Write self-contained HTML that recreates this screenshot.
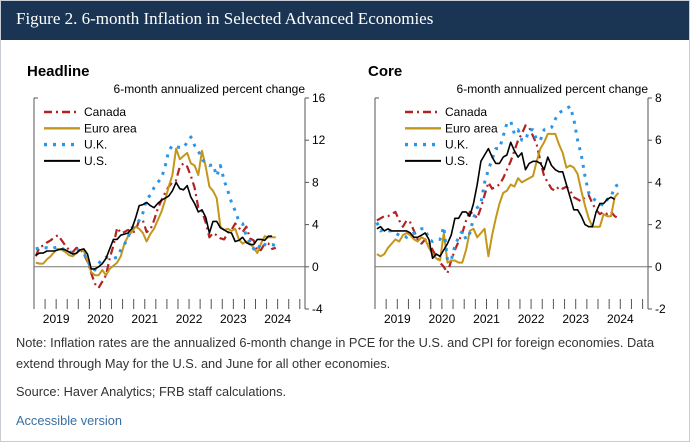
<!DOCTYPE html>
<html><head><meta charset="utf-8">
<style>
html,body{margin:0;padding:0;background:#fff;}
body{width:690px;height:442px;overflow:hidden;position:relative;font-family:"Liberation Sans",sans-serif;}
.note{position:absolute;left:16px;font-size:12.8px;color:#333;line-height:20.5px;white-space:nowrap;}
</style></head><body>
<div style="position:absolute;left:0;top:0;width:688px;height:440px;border:1px solid #c8cdd3;"></div>
<div style="position:absolute;left:1px;top:1px;width:688px;height:39px;background:#1a3553;"></div>
<div style="position:absolute;left:16px;top:9px;color:#fff;font-family:'Liberation Serif',serif;font-size:17px;white-space:nowrap;">Figure 2. 6-month Inflation in Selected Advanced Economies</div>
<svg id="chart" width="690" height="442" style="position:absolute;left:0;top:0"></svg>
<div class="note" style="top:333px;">Note: Inflation rates are the annualized 6-month change in PCE for the U.S. and CPI for foreign economies. Data<br>extend through May for the U.S. and June for all other economies.</div>
<div class="note" style="top:382px;">Source: Haver Analytics; FRB staff calculations.</div>
<div class="note" style="top:411px;color:#3a6fa0;">Accessible version</div>
<script>
const years=["2019","2020","2021","2022","2023","2024"];
const hTicks=[16,12,8,4,0,-4];
const cTicks=[8,6,4,2,0,-2];
const seriesNames=["Canada","Euro area","U.K.","U.S."];
const hCanada=[1.0,1.9,2.0,2.3,2.5,2.8,3.0,2.5,2.0,1.6,1.4,1.8,1.7,1.2,0.5,-0.6,-1.6,-2.0,-1.4,-0.8,0.8,2.0,3.7,3.2,3.3,3.5,3.2,3.4,4.4,4.4,3.3,3.5,4.4,5.5,6.3,7.0,7.6,8.0,8.2,9.5,9.8,9.5,8.6,7.5,5.6,5.3,4.2,2.8,3.2,3.0,2.7,2.6,3.2,3.5,4.1,3.7,3.3,3.8,2.7,2.5,1.5,1.6,2.2,2.2,1.7,1.8];
const hEuro=[0.4,0.3,0.3,0.7,1.0,1.4,1.7,1.6,1.4,1.1,1.0,1.3,1.6,1.5,0.6,-0.5,-0.8,-0.8,-0.3,-0.8,-0.2,0.1,0.4,1.0,2.2,2.9,3.3,3.8,3.6,3.2,2.4,3.1,3.6,4.4,5.2,6.3,7.6,8.7,11.2,10.2,10.5,10.8,9.8,9.6,8.7,11.0,9.5,7.6,7.2,6.5,3.8,3.5,3.6,3.4,3.6,2.6,2.2,2.4,2.2,1.8,1.3,2.2,2.9,2.8,2.8,2.8];
const hUK=[1.7,1.8,1.8,1.8,1.7,1.8,1.9,1.8,1.5,1.3,1.5,1.7,1.5,1.3,0.6,-0.1,-0.3,0.3,0.7,0.9,0.8,0.8,0.9,1.6,2.1,2.8,3.7,3.9,4.4,5.1,6.4,6.8,7.5,8.0,8.4,9.5,11.0,11.5,11.4,11.3,11.3,11.8,12.3,11.5,11.0,10.2,9.8,9.6,9.7,8.6,9.6,8.2,7.2,6.1,5.3,4.3,4.1,2.9,2.4,1.7,1.5,2.3,2.1,2.0,2.1,2.0];
const hUS=[1.1,1.3,1.3,1.5,1.5,1.5,1.6,1.7,1.6,1.4,1.2,1.3,1.6,1.7,1.2,-0.2,-0.2,0.0,0.3,0.8,1.7,2.6,2.6,3.0,3.1,3.2,3.6,4.6,5.8,5.9,6.1,5.8,5.6,6.0,6.3,6.5,6.7,7.2,8.0,7.4,7.3,7.7,6.6,6.0,5.2,5.4,4.7,3.2,4.3,4.3,3.7,3.5,3.3,3.2,2.4,2.5,2.8,2.3,2.1,2.1,2.6,2.6,2.5,2.9,2.9];
const cCanada=[2.2,2.3,2.4,2.4,2.5,2.6,2.2,1.9,2.2,2.1,1.7,1.3,1.1,1.3,1.2,0.8,0.5,0.2,0.0,-0.3,0.3,0.8,1.2,1.6,2.2,2.6,2.5,2.3,2.8,3.4,4.0,3.7,3.8,3.9,4.2,4.6,5.0,5.5,6.0,6.3,6.7,6.6,6.2,5.8,5.0,4.3,4.0,3.7,3.6,3.8,3.7,3.8,3.6,3.3,3.2,3.1,3.3,3.4,3.0,2.7,2.5,2.6,2.5,2.6,2.4,2.3];
const cEuro=[0.6,0.5,0.6,0.9,1.1,1.3,1.2,1.5,1.6,1.5,1.3,1.2,1.4,1.3,0.9,0.6,0.4,0.3,1.6,0.2,0.3,0.3,0.2,0.2,0.8,1.7,1.8,1.4,1.6,1.8,0.5,1.5,2.3,3.0,3.5,3.6,3.9,3.8,4.2,4.0,4.1,4.2,4.3,5.0,5.6,5.9,6.3,6.3,6.3,5.8,5.4,4.7,4.8,4.7,4.4,3.6,2.9,2.3,1.9,1.9,1.9,2.5,2.4,2.4,3.3,3.5];
const cUK=[2.1,1.7,1.8,1.7,1.7,1.6,1.5,1.5,1.4,1.5,1.6,1.7,1.8,1.8,1.3,1.2,1.3,1.3,1.9,0.3,0.3,1.0,1.4,1.7,1.3,1.6,2.3,2.8,3.0,4.0,4.6,5.1,5.6,5.6,6.2,6.8,6.9,6.3,6.5,6.0,6.0,6.5,6.5,6.0,6.0,6.5,6.5,6.6,7.0,7.3,7.4,7.5,7.6,7.0,6.0,5.3,4.3,3.5,3.3,3.1,3.0,2.9,3.2,3.3,3.8,3.9];
const cUS=[1.8,1.9,1.7,1.8,1.7,1.7,1.7,1.7,1.7,1.6,1.4,1.4,1.5,1.6,1.3,0.4,0.6,0.5,0.8,1.1,1.5,2.3,2.3,2.6,2.6,2.4,3.0,3.9,5.0,5.3,5.6,5.2,4.9,4.9,5.2,5.3,5.9,5.5,5.2,5.4,4.6,4.9,5.0,5.0,4.9,4.6,5.2,4.8,4.6,4.5,4.5,3.9,3.3,2.7,2.7,2.4,2.0,1.9,1.9,2.6,3.0,3.0,3.2,3.3,3.2];

const NS="http://www.w3.org/2000/svg";
const svg=document.getElementById('chart');
function mk(tag,attrs,parent){const e=document.createElementNS(NS,tag);for(const k in attrs)e.setAttribute(k,attrs[k]);(parent||svg).appendChild(e);return e;}
const styles=[
 {stroke:"#b22222",w:2.2,dash:"8,4,2,4"},
 {stroke:"#c4961a",w:2,dash:null},
 {stroke:"#2b95e8",w:3,dash:"3,6"},
 {stroke:"#000",w:1.6,dash:null}];

function panel(opt){
 const g=mk('g',{});
 
 
 const L=opt.left,R=opt.right,T=98,B=309;
 const yMax=opt.ticks[0],yMin=opt.ticks[opt.ticks.length-1];
 const y=v=>T+(yMax-v)/(yMax-yMin)*(B-T);
 const x=t=>L+(t-2019)*opt.pxYear;
 const title=mk('text',{x:opt.titleX,y:76,'font-size':15,'font-weight':'bold',fill:'#000','font-family':'Liberation Sans, sans-serif'},g);
 title.textContent=opt.title;
 
 
 const unit=mk('text',{x:R,y:93,'font-size':12,'text-anchor':'end',fill:'#000'},g);
 unit.textContent="6-month annualized percent change";
 
 
 mk('line',{x1:L,y1:T,x2:L,y2:B,stroke:'#555','stroke-width':1},g);
 mk('line',{x1:L,y1:T,x2:L+4,y2:T,stroke:'#555','stroke-width':1},g);
 mk('line',{x1:R,y1:T,x2:R,y2:B,stroke:'#555','stroke-width':1},g);
 opt.ticks.forEach(v=>{
  mk('line',{x1:R,y1:y(v),x2:R+4,y2:y(v),stroke:'#555'},g);
  const t=mk('text',{x:R+7,y:y(v)+4,'font-size':12,fill:'#000'},g);
  t.textContent=v;
  
  
 });
 mk('line',{x1:L,y1:y(0),x2:R,y2:y(0),stroke:'#777','stroke-width':1},g);
 for(let q=0;q<=24;q++){const xx=x(2019+q/4);if(xx>R-2)break;mk('line',{x1:xx,y1:B-10,x2:xx,y2:B,stroke:'#555'},g);}
 years.forEach((yr,i)=>{
  const t=mk('text',{x:x(2019.5+i),y:323,'font-size':12,'text-anchor':'middle',fill:'#000'},g);
  t.textContent=yr;
  
  
 });
 opt.series.forEach((arr,si)=>{
  const st=styles[si];
  const pts=arr.map((v,i)=>x(2019+(i+0.5)/12).toFixed(1)+","+y(v).toFixed(1)).join(" ");
  const a={points:pts,fill:'none',stroke:st.stroke,'stroke-width':st.w,'stroke-linejoin':'round'};
  if(st.dash)a['stroke-dasharray']=st.dash;
  const p=mk('polyline',a,g);
  
  
 });
 seriesNames.forEach((n,i)=>{
  const st=styles[i];const ly=112+i*16.3;
  const a={x1:opt.legX,y1:ly,x2:opt.legX+36,y2:ly,stroke:st.stroke,'stroke-width':st.w+0.4};
  if(st.dash)a['stroke-dasharray']=st.dash;
  const l=mk('line',a,g);
  
  
  const t=mk('text',{x:opt.legX+40,y:ly+4,'font-size':12,fill:'#000'},g);
  t.textContent=n;
  
  
 });
}
panel({name:'headline-panel',title:'Headline',titleX:27,left:34,right:305,pxYear:44.3,ticks:hTicks,legX:44,series:[hCanada,hEuro,hUK,hUS]});
panel({name:'core-panel',title:'Core',titleX:368,left:375,right:648,pxYear:44.6,ticks:cTicks,legX:405,series:[cCanada,cEuro,cUK,cUS]});
</script>
</body></html>
